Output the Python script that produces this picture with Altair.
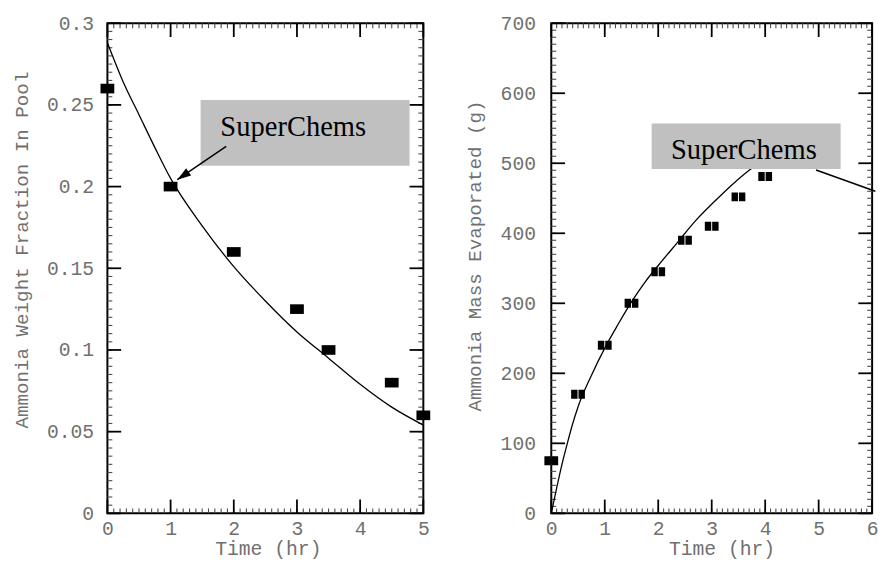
import altair as alt
import pandas as pd

# ---------------- data ----------------
# left panel: ammonia weight fraction in pool
frac_curve_t = [0, 0.25, 0.5, 0.75, 1, 1.5, 2, 2.5, 3, 3.5, 4, 4.5, 5]
frac_curve_v = [0.288, 0.264, 0.244, 0.224, 0.205, 0.176, 0.151, 0.130, 0.111, 0.095, 0.079, 0.065, 0.054]
frac_meas_t = [0, 1, 2, 3, 3.5, 4.5, 5]
frac_meas_v = [0.26, 0.20, 0.16, 0.125, 0.10, 0.08, 0.06]

# right panel: ammonia mass evaporated
mass_curve_t = [0, 0.1, 0.2, 0.3, 0.4, 0.5, 0.75, 1.0, 1.25, 1.5, 1.75, 2.0, 2.35, 2.7, 3.1, 3.45, 3.7, 4.0, 4.3]
mass_curve_v = [0, 36, 70, 100, 128, 152, 197, 236, 270, 302, 330, 354, 386, 418, 449, 474, 490, 505, 515]
mass_meas_t = [0, 0.5, 1, 1.5, 2, 2.5, 3, 3.5, 4]
mass_meas_v = [75, 170, 240, 300, 345, 390, 410, 452, 481]

# tick positions
left_x_major = [0, 1, 2, 3, 4, 5]
left_y_major = [0, 0.05, 0.1, 0.15, 0.2, 0.25, 0.3]
right_x_major = [0, 1, 2, 3, 4, 5, 6]
right_y_major = [0, 100, 200, 300, 400, 500, 600, 700]
left_x_minor = [i / 10 for i in range(0, 51)]
left_y_minor = [i / 200 for i in range(0, 61)]
right_x_minor = [i / 10 for i in range(0, 61)]
right_y_minor = [i * 10 for i in range(0, 71)]

# annotations (box corners, label anchor, arrow tail/tip) in data units
label_text = "SuperChems"
left_box = dict(x=1.475, x2=4.782, y=0.2530, y2=0.2127)
left_label = dict(x=2.941, y=0.2310)
left_arrow = dict(x=1.880, y=0.2246, x2=1.106, y2=0.2042)
right_box = dict(x=1.877, x2=5.411, y=556.9, y2=491.7)
right_label = dict(x=3.602, y=506.5)
right_arrow = dict(x=4.951, y=490.3, x2=6.06, y2=460.0)

# ---------------- styling ----------------
MONO = "Liberation Mono"
GRAY = "#707070"
RECT_SHAPE = "M-1,-0.7L1,-0.7L1,0.7L-1,0.7Z"
DOUBLE_SHAPE = "M-1,-0.65L-0.07,-0.65L-0.07,0.65L-1,0.65Z M0.07,-0.65L1,-0.65L1,0.65L0.07,0.65Z"
ARROW_SHAPE = "M0,0L0.32,1L-0.32,1Z"
MINOR_LEN, MINOR_W = 5, 1.1
MAJOR_LEN, MAJOR_W = 14, 1.8
PLOT_H = 498


def make_panel(W, H, xdom, ydom, x_major, y_major, x_minor, y_minor,
               curve_t, curve_v, meas_t, meas_v, marker_shape,
               ytitle, ytitle_x, ytitle_y, ylabel_pad, xtitle_x,
               box, label, arrow, arrow_head):
    xaxis = alt.Axis(values=x_major, ticks=False, domain=False, grid=False,
                     labelFont=MONO, labelFontSize=20, labelColor=GRAY,
                     labelPadding=5, labelFlush=False, labelOverlap=False,
                     labelExpr="datum.value + ''",
                     titleFont=MONO, titleFontSize=20,
                     titleFontWeight="normal", titleColor=GRAY,
                     titleX=xtitle_x, titleY=36, titleBaseline="middle")
    yaxis = alt.Axis(values=y_major, ticks=False, domain=False, grid=False,
                     labelFont=MONO, labelFontSize=20, labelColor=GRAY,
                     labelPadding=ylabel_pad, labelFlush=False, labelOverlap=False,
                     labelExpr="datum.value + ''",
                     titleFont=MONO, titleFontSize=19.5,
                     titleFontWeight="normal", titleColor=GRAY,
                     titleX=ytitle_x, titleY=ytitle_y, titleBaseline="middle")
    xs = alt.Scale(domain=xdom, nice=False, zero=False)
    ys = alt.Scale(domain=ydom, nice=False, zero=False)

    def X():
        return alt.X("x:Q", scale=xs, axis=xaxis, title="Time (hr)")

    def Y():
        return alt.Y("y:Q", scale=ys, axis=yaxis, title=ytitle)

    # inward tick marks drawn as thin filled rectangles on all four frame sides
    xpp = (xdom[1] - xdom[0]) / W   # data units per pixel, x
    ypp = (ydom[1] - ydom[0]) / H   # data units per pixel, y

    def tick_rects(xvals, yvals, length, width):
        rows = []
        hx, hy = width / 2 * xpp, width / 2 * ypp
        for v in xvals:
            rows.append({"x": v - hx, "x2": v + hx, "y": ydom[0], "y2": ydom[0] + length * ypp})
            rows.append({"x": v - hx, "x2": v + hx, "y": ydom[1], "y2": ydom[1] - length * ypp})
        for v in yvals:
            rows.append({"y": v - hy, "y2": v + hy, "x": xdom[0], "x2": xdom[0] + length * xpp})
            rows.append({"y": v - hy, "y2": v + hy, "x": xdom[1], "x2": xdom[1] - length * xpp})
        return pd.DataFrame(rows)

    layers = []
    layers.append(alt.Chart(tick_rects(x_minor, y_minor, MINOR_LEN, MINOR_W)).mark_rect(
        color="#4a4a4a").encode(x=X(), x2="x2:Q", y=Y(), y2="y2:Q"))
    layers.append(alt.Chart(tick_rects(x_major, y_major, MAJOR_LEN, MAJOR_W)).mark_rect(
        color="#000000").encode(x=X(), x2="x2:Q", y=Y(), y2="y2:Q"))

    # model curve
    dcurve = pd.DataFrame({"x": curve_t, "y": curve_v})
    layers.append(alt.Chart(dcurve).mark_line(color="black", strokeWidth=1.3,
                                              interpolate="monotone").encode(x=X(), y=Y()))
    # measured points
    dmeas = pd.DataFrame({"x": meas_t, "y": meas_v})
    layers.append(alt.Chart(dmeas).mark_point(shape=marker_shape, filled=True, size=196,
                                              color="black", opacity=1).encode(x=X(), y=Y()))

    # annotation box + label
    dbox = pd.DataFrame([box])
    layers.append(alt.Chart(dbox).mark_rect(color="#c0c0c0").encode(
        x=X(), x2="x2:Q", y=Y(), y2="y2:Q"))
    dlab = pd.DataFrame([dict(label, t=label_text)])
    layers.append(alt.Chart(dlab).mark_text(font="Liberation Serif", fontSize=29,
                                            baseline="alphabetic", align="center",
                                            color="black").encode(x=X(), y=Y(), text="t:N"))
    darr = pd.DataFrame([arrow])
    layers.append(alt.Chart(darr).mark_rule(color="black", strokeWidth=1.5).encode(
        x=X(), x2="x2:Q", y=Y(), y2="y2:Q"))
    if arrow_head is not None:
        dhead = pd.DataFrame([{"x": arrow["x2"], "y": arrow["y2"]}])
        layers.append(alt.Chart(dhead).mark_point(shape=ARROW_SHAPE, filled=True, size=784,
                                                  angle=arrow_head, color="black",
                                                  opacity=1).encode(x=X(), y=Y()))

    return alt.layer(*layers).properties(width=W, height=H)


left = make_panel(321, PLOT_H, [0, 5], [0, 0.3], left_x_major, left_y_major,
                  left_x_minor, left_y_minor, frac_curve_t, frac_curve_v,
                  frac_meas_t, frac_meas_v, RECT_SHAPE,
                  "Ammonia Weight Fraction In Pool", -87, 230, 14, 163,
                  left_box, left_label, left_arrow, 235.4)

right = make_panel(326, PLOT_H, [0, 6], [0, 700], right_x_major, right_y_major,
                   right_x_minor, right_y_minor, mass_curve_t, mass_curve_v,
                   mass_meas_t, mass_meas_v, DOUBLE_SHAPE,
                   "Ammonia Mass Evaporated (g)", -78, 236, 16, 173,
                   right_box, right_label, right_arrow, None)

chart = alt.hconcat(left, right, spacing=32).properties(
    padding={"left": 2, "top": 0, "right": 0, "bottom": 0},
    background="white",
).configure_view(stroke="black", strokeWidth=2)

chart.save("out.html", embed_options={"renderer": "svg", "actions": False})
